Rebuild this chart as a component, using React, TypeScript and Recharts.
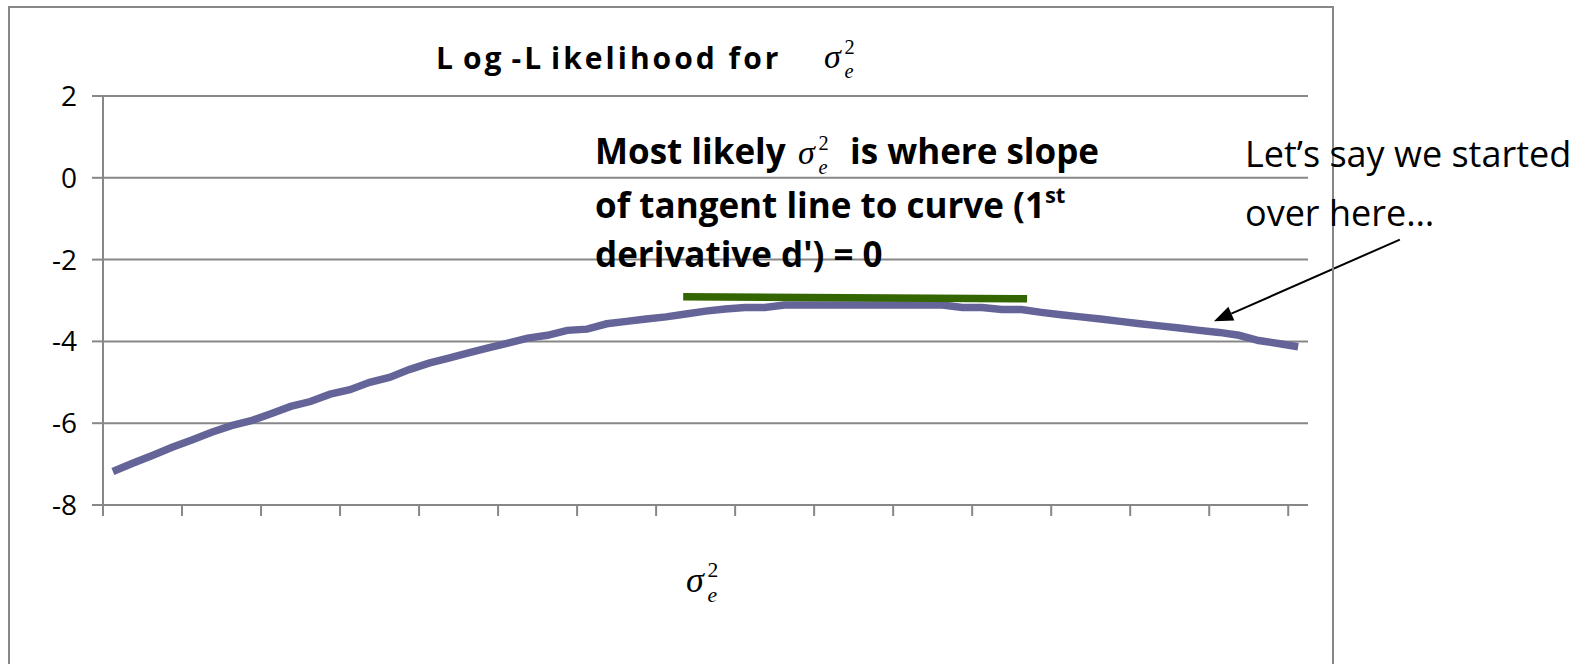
import React from 'react';
import { LineChart, Line, XAxis, YAxis, CartesianGrid, ReferenceLine } from 'recharts';

// log-likelihood, one value per category (61 categories)
const logLik = [
  -7.18, -6.98, -6.79, -6.59, -6.41, -6.22, -6.06, -5.94, -5.77, -5.59,
  -5.47, -5.29, -5.18, -5.0, -4.88, -4.69, -4.53, -4.41, -4.28, -4.16,
  -4.04, -3.92, -3.85, -3.73, -3.7, -3.57, -3.51, -3.45, -3.4, -3.33,
  -3.26, -3.21, -3.17, -3.17, -3.11, -3.11, -3.11, -3.11, -3.11, -3.11,
  -3.11, -3.11, -3.11, -3.17, -3.17, -3.22, -3.22, -3.29, -3.35, -3.4,
  -3.45, -3.51, -3.57, -3.62, -3.67, -3.73, -3.78, -3.85, -3.98, -4.05,
  -4.13,
];
const yTicks = [-8, -6, -4, -2, 0, 2];
const xTicks = [0, 4, 8, 12, 16, 20, 24, 28, 32, 36, 40, 44, 48, 52, 56, 60];

// tangent line at the top of the curve
const tangentX = [29.37, 46.78];
const tangentY = [-2.91, -2.96];

// arrow: tail then tip
const arrowX = [65.65, 56.24];
const arrowY = [-1.51, -3.51];

const data = logLik.map((v, i) => ({ idx: i + 0.5, ll: v }));

const GRAY = '#878787';
const SANS = '"Open Sans", Lato, sans-serif';
const MATH = '"Liberation Serif", "DejaVu Serif", serif';

const ArrowShape = (p: any) => {
  const { x1, y1, x2, y2 } = p;
  const a = Math.atan2(y2 - y1, x2 - x1);
  const len = 19;
  const half = 7.5;
  const bx = x2 - len * Math.cos(a);
  const by = y2 - len * Math.sin(a);
  const lx = bx + half * Math.sin(a);
  const ly = by - half * Math.cos(a);
  const rx = bx - half * Math.sin(a);
  const ry = by + half * Math.cos(a);
  return (
    <g>
      <line x1={x1} y1={y1} x2={bx} y2={by} stroke="#000" strokeWidth={2} />
      <polygon points={`${x2},${y2} ${lx},${ly} ${rx},${ry}`} fill="#000" />
    </g>
  );
};

// sigma with subscript e and superscript 2 stacked
const Sigma = ({ x, y, size = 34 }: { x: number; y: number; size?: number }) => (
  <g fontFamily={MATH} fill="#000">
    <text x={x} y={y} fontSize={size} fontStyle="italic">σ</text>
    <text x={x + size * 0.6} y={y - size * 0.42} fontSize={size * 0.6}>2</text>
    <text x={x + size * 0.6} y={y + size * 0.28} fontSize={size * 0.6} fontStyle="italic">e</text>
  </g>
);

export default function App() {
  return (
    <div style={{ position: 'absolute', left: 0, top: 0, width: 1594, height: 664, background: '#fff' }}>
      <LineChart
        width={1594}
        height={664}
        data={data}
        margin={{ top: 96, right: 286, bottom: 129, left: 0 }}
      >
        <CartesianGrid vertical={false} stroke={GRAY} strokeWidth={2} />
        <XAxis
          dataKey="idx"
          type="number"
          domain={[0, 61]}
          ticks={xTicks}
          tickFormatter={() => ''}
          tickSize={11}
          height={30}
          axisLine={{ stroke: GRAY, strokeWidth: 2 }}
          tickLine={{ stroke: GRAY, strokeWidth: 2 }}
        />
        <YAxis
          domain={[-8, 2]}
          ticks={yTicks}
          width={103}
          tickSize={11}
          tickMargin={15}
          axisLine={{ stroke: GRAY, strokeWidth: 2 }}
          tickLine={{ stroke: GRAY, strokeWidth: 2 }}
          tick={{ fill: '#000', fontSize: 28, fontFamily: SANS }}
        />
        <Line
          type="linear"
          dataKey="ll"
          stroke="#646498"
          strokeWidth={7.5}
          dot={false}
          activeDot={false}
          isAnimationActive={false}
        />
        <ReferenceLine
          segment={[
            { x: tangentX[0], y: tangentY[0] },
            { x: tangentX[1], y: tangentY[1] },
          ]}
          stroke="#336600"
          strokeWidth={7.5}
          ifOverflow="visible"
        />
        <ReferenceLine
          segment={[
            { x: arrowX[0], y: arrowY[0] },
            { x: arrowX[1], y: arrowY[1] },
          ]}
          ifOverflow="visible"
          shape={(p: any) => <ArrowShape {...p} />}
        />
      </LineChart>

      <svg
        width={1594}
        height={664}
        style={{ position: 'absolute', left: 0, top: 0, pointerEvents: 'none' }}
      >
        <rect x={9} y={7} width={1324} height={700} fill="none" stroke={GRAY} strokeWidth={2} />

        {/* title */}
        <text x={436} y={69} fontFamily={SANS} fontWeight={700} fontSize={30} letterSpacing={3} fill="#000">
          <tspan>L</tspan>
          <tspan dx={7}>og</tspan>
          <tspan dx={7}>-L</tspan>
          <tspan dx={7}>ikelihood for</tspan>
        </text>
        <Sigma x={824} y={68} size={34} />

        {/* annotation */}
        <g fontFamily={SANS} fontWeight={700} fontSize={35} fill="#000">
          <text x={595} y={164}>Most likely</text>
          <text x={850} y={164}>is where slope</text>
          <text x={595} y={218}>
            of tangent line to curve (1
            <tspan dy={-15} fontSize={22}>st</tspan>
          </text>
          <text x={595} y={267}>derivative d') = 0</text>
        </g>
        <Sigma x={798} y={164} size={34} />

        <g fontFamily={SANS} fontSize={36} fill="#000">
          <text x={1245} y={167}>Let’s say we started</text>
          <text x={1245} y={226}>over here…</text>
        </g>

        {/* x axis label */}
        <Sigma x={686} y={592} size={36} />
      </svg>
    </div>
  );
}
